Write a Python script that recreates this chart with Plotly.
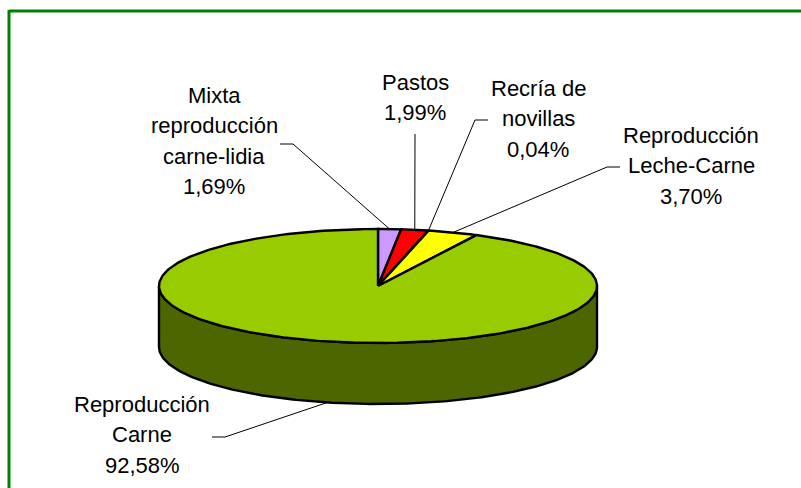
import math
import plotly.graph_objects as go

# ---- data ----
categories = ["Mixta\nreproducción\ncarne-lidia", "Pastos", "Recría de\nnovillas",
              "Reproducción\nLeche-Carne", "Reproducción\nCarne"]
values = [1.69, 1.99, 0.04, 3.70, 92.58]
colors = ["#CC99FF", "#FF0000", "#3366FF", "#FFFF00", "#99CC00"]
side_color = "#4D6600"

# ---- style / layout ----
W, H = 801, 488
CX, CY, RX, RY, DEPTH = 378, 286, 219, 57, 61
FONT = dict(family="Liberation Sans, Arial, sans-serif", size=22, color="#000000")
LINE_GAP = 30.6
# label centre x, first-line centre y, elbow (x, y) or None, start of leader x
label_style = [
    (214, 95, (293, 144), 280),
    (415, 82, None, None),
    (538, 88, (475, 120), 488),
    (691, 135, (607, 167), 620),
    (142, 404, (225, 437), 212),
]
leader_start_y = [144, 134, 120, 167, 437]
STEPS_PER_PCT = 4


def pt(angle, dy=0):
    """Angle in radians clockwise from the top of the ellipse."""
    return CX + RX * math.sin(angle), CY - RY * math.cos(angle) + dy


def arc(a0, a1, dy=0):
    n = max(2, int(abs(a1 - a0) / (2 * math.pi) * 100 * STEPS_PER_PCT) + 2)
    return [pt(a0 + (a1 - a0) * i / (n - 1), dy) for i in range(n)]


total = sum(values)
fracs = [v / total * 2 * math.pi for v in values]
starts = [sum(fracs[:i]) for i in range(len(fracs))]

fig = go.Figure()

# outer wall (front half of the disc)
wall = arc(math.pi / 2, 3 * math.pi / 2) + arc(3 * math.pi / 2, math.pi / 2, DEPTH)
fig.add_trace(go.Scatter(
    x=[p[0] for p in wall] + [wall[0][0]], y=[p[1] for p in wall] + [wall[0][1]],
    mode="lines", fill="toself", fillcolor=side_color,
    line=dict(color="#000000", width=2.4), hoverinfo="skip"))

# top wedges
for s, f, c in zip(starts, fracs, colors):
    pts = [(CX, CY)] + arc(s, s + f) + [(CX, CY)]
    fig.add_trace(go.Scatter(
        x=[p[0] for p in pts], y=[p[1] for p in pts],
        mode="lines", fill="toself", fillcolor=c,
        line=dict(color="#000000", width=2.4), hoverinfo="skip"))

# leaders and labels
for i, (cat, val) in enumerate(zip(categories, values)):
    lx, ly, elbow, sx = label_style[i]
    mid = starts[i] + fracs[i] / 2
    # slices on the front half are anchored on the lower rim
    end = pt(mid, DEPTH if math.cos(mid) < 0 else 0)
    if elbow:
        xs, ys = [sx, elbow[0], end[0]], [elbow[1], elbow[1], end[1]]
    else:
        xs, ys = [lx, end[0]], [leader_start_y[i], end[1]]
    fig.add_trace(go.Scatter(x=xs, y=ys, mode="lines",
                             line=dict(color="#000000", width=1), hoverinfo="skip"))
    lines = cat.split("\n") + [f"{val:.2f}".replace(".", ",") + "%"]
    for j, t in enumerate(lines):
        fig.add_annotation(x=lx, y=ly + j * LINE_GAP, text=t, showarrow=False,
                           xanchor="center", yanchor="middle", font=FONT)

fig.update_layout(
    width=W, height=H, margin=dict(l=0, r=0, t=0, b=0), showlegend=False,
    paper_bgcolor="#FFFFFF", plot_bgcolor="#FFFFFF",
    xaxis=dict(range=[0, W], visible=False, fixedrange=True),
    yaxis=dict(range=[H, 0], visible=False, fixedrange=True),
    shapes=[
        dict(type="line", xref="x", yref="y", x0=9, y0=11, x1=W, y1=11,
             line=dict(color="#008000", width=3)),
        dict(type="line", xref="x", yref="y", x0=9, y0=10, x1=9, y1=H,
             line=dict(color="#008000", width=3)),
    ],
)
fig.write_html("out.html", config=dict(displayModeBar=False),
               post_script="document.body.style.margin='0';")
